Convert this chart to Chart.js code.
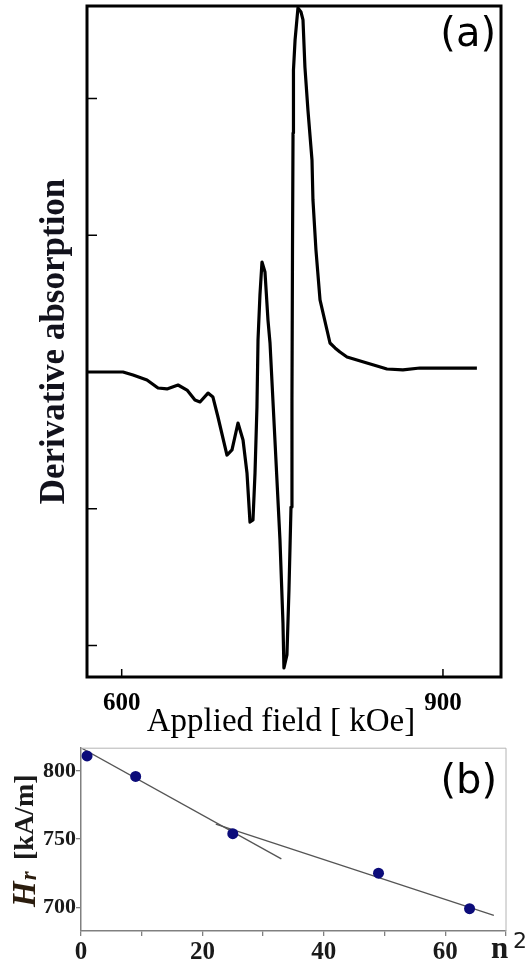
<!DOCTYPE html>
<html>
<head>
<meta charset="utf-8">
<script src="https://cdn.jsdelivr.net/npm/chart.js@4.4.1/dist/chart.umd.min.js"></script>
<style>
  body { margin: 0; background: #fff; }
  canvas { position: absolute; left: 0; }
  #chartA { top: 0; }
  #chartB { top: 735px; }
</style>
</head>
<body>
<canvas id="chartA" width="528" height="745"></canvas>
<canvas id="chartB" width="528" height="235"></canvas>
<script>
// panel (a): derivative absorption vs applied field
const fieldKOe = [568.5, 601.2, 610.6, 623.6, 633.9, 642.3, 652.6, 661.0, 668.4, 673.1,
  680.6, 685.2, 689.9, 698.3, 703.0, 708.6, 713.3, 717.0, 719.8, 722.6,
  724.5, 726.3, 727.3, 729.1, 731.0, 733.8, 736.6, 738.5, 743.1, 747.8,
  750.6, 751.5, 754.3, 756.2, 758.1, 759.0, 759.5, 760.0, 760.4, 761.9,
  764.6, 767.4, 769.3, 771.1, 773.9, 777.7, 778.6, 781.4, 785.2, 791.7,
  794.5, 799.2, 803.8, 810.4, 819.7, 829.0, 838.4, 847.7, 862.6, 878.5, 931.7];
const derivAbs = [0.00, 0.00, -0.022, -0.058, -0.117, -0.124, -0.095, -0.132, -0.205, -0.219,
  -0.154, -0.183, -0.329, -0.607, -0.570, -0.373, -0.497, -0.738, -1.097, -1.082,
  -0.738, -0.256, 0.234, 0.563, 0.804, 0.731, 0.380, 0.212, -0.497, -1.229,
  -1.835, -2.164, -2.069, -1.594, -0.987, -0.205, 0.892, 1.748, 2.208, 2.428,
  2.662, 2.633, 2.574, 2.230, 1.916, 1.550, 1.258, 0.892, 0.527, 0.307,
  0.212, 0.176, 0.146, 0.110, 0.088, 0.066, 0.044, 0.022, 0.015, 0.029, 0.029];
const fieldTicks = [600, 900];
const absTicks = [-2, -1, 0, 1, 2];

// panel (b): resonance field vs n^2
const nSquared = [1, 9, 25, 49, 64];
const resField = [811, 796, 754, 725, 699];
const fitLowX = [0, 33];
const fitLowY = [817, 735.5];
const fitHighX = [22.2, 68];
const fitHighY = [761, 694];
const n2Labels = [0, 20, 40, 60];

const serif = "'Liberation Serif', 'Times New Roman', serif";
const sans = "'DejaVu Sans', sans-serif";
const pts = (xs, ys) => xs.map((x, i) => ({ x, y: ys[i] }));

// box + inward ticks + texts for (a)
const frameA = {
  id: 'frameA',
  afterDraw(chart) {
    const { ctx, chartArea: a, scales: { x, y } } = chart;
    ctx.save();
    ctx.strokeStyle = '#000';
    ctx.lineWidth = 3;
    ctx.strokeRect(a.left, a.top, a.right - a.left, a.bottom - a.top);
    ctx.lineWidth = 1.5;
    ctx.beginPath();
    absTicks.forEach(v => {
      const py = y.getPixelForValue(v);
      ctx.moveTo(a.left, py); ctx.lineTo(a.left + 10, py);
    });
    fieldTicks.forEach(v => {
      const px = x.getPixelForValue(v);
      ctx.moveTo(px, a.bottom); ctx.lineTo(px, a.bottom - 8);
    });
    ctx.stroke();
    ctx.fillStyle = '#000';
    ctx.textAlign = 'center';
    ctx.textBaseline = 'middle';
    ctx.font = `33px ${serif}`;
    ctx.fillText('Applied field [ kOe]', 281, 722);
    ctx.textAlign = 'right';
    ctx.font = `40px ${sans}`;
    ctx.fillText('(a)', 496, 36);
    ctx.restore();
  }
};

new Chart(document.getElementById('chartA'), {
  type: 'scatter',
  data: {
    datasets: [{
      data: pts(fieldKOe, derivAbs),
      showLine: true,
      borderColor: '#000',
      borderWidth: 3.2,
      borderJoinStyle: 'round',
      pointRadius: 0,
      tension: 0
    }]
  },
  options: {
    responsive: false,
    animation: false,
    layout: { padding: { top: 6, right: 27, left: 0, bottom: 0 } },
    plugins: { legend: { display: false }, tooltip: { enabled: false } },
    scales: {
      x: {
        type: 'linear',
        min: 567.6,
        max: 954.2,
        afterBuildTicks: s => { s.ticks = fieldTicks.map(v => ({ value: v })); },
        afterFit: s => { s.height = 68; },
        ticks: { font: { family: serif, size: 25, weight: 'bold' }, color: '#000', padding: 4, maxRotation: 0 },
        grid: { display: false },
        border: { display: false }
      },
      y: {
        min: -2.23,
        max: 2.676,
        afterFit: s => { s.width = 87; },
        ticks: { display: false },
        grid: { display: false },
        border: { display: false },
        title: {
          display: true,
          text: 'Derivative absorption',
          color: '#12121c',
          font: { family: serif, size: 35, weight: 'bold' },
          padding: { top: 34, bottom: 0 }
        }
      }
    }
  },
  plugins: [frameA]
});

// light frame + custom labels for (b)
const frameB = {
  id: 'frameB',
  afterDraw(chart) {
    const { ctx, chartArea: a } = chart;
    ctx.save();
    ctx.strokeStyle = '#b4b4b4';
    ctx.lineWidth = 1;
    ctx.beginPath();
    ctx.moveTo(a.left, a.top); ctx.lineTo(a.right, a.top); ctx.lineTo(a.right, a.bottom);
    ctx.stroke();

    ctx.fillStyle = '#000';
    ctx.textAlign = 'right';
    ctx.textBaseline = 'middle';
    ctx.font = `40px ${sans}`;
    ctx.fillText('(b)', 497, 48);

    ctx.textAlign = 'left';
    ctx.textBaseline = 'alphabetic';
    ctx.font = `bold 31px ${serif}`;
    ctx.fillStyle = '#1a1a1a';
    ctx.fillText('n', 491, 223);
    ctx.font = `22px ${sans}`;
    ctx.fillText('2', 513, 213);

    ctx.translate(35, 172);
    ctx.rotate(-Math.PI / 2);
    ctx.fillStyle = '#2b1d0e';
    ctx.font = `italic bold 33px ${serif}`;
    ctx.fillText('H', 0, 0);
    const w = ctx.measureText('H').width;
    ctx.font = `italic bold 23px ${serif}`;
    ctx.fillText('r', w + 1, 1);
    ctx.fillStyle = '#1a1a1a';
    ctx.font = `bold 28px ${serif}`;
    ctx.fillText('[kA/m]', 47, -2);
    ctx.restore();
  }
};

const axisGrey = '#808080';
new Chart(document.getElementById('chartB'), {
  type: 'scatter',
  data: {
    datasets: [
      { data: pts(nSquared, resField), backgroundColor: '#0c0c7a', borderWidth: 0, pointRadius: 5.5, order: 0 },
      { data: pts(fitLowX, fitLowY), showLine: true, borderColor: '#555', borderWidth: 1.3, pointRadius: 0, order: 1 },
      { data: pts(fitHighX, fitHighY), showLine: true, borderColor: '#555', borderWidth: 1.3, pointRadius: 0, order: 1 }
    ]
  },
  options: {
    responsive: false,
    animation: false,
    layout: { padding: { top: 12, right: 22, left: 0, bottom: 0 } },
    plugins: { legend: { display: false }, tooltip: { enabled: false } },
    scales: {
      x: {
        type: 'linear',
        min: 0,
        max: 70,
        afterFit: s => { s.height = 39; },
        ticks: {
          stepSize: 10,
          autoSkip: false,
          maxRotation: 0,
          padding: 2,
          color: '#1a1a1a',
          font: { family: serif, size: 25, weight: 'bold' },
          callback: v => n2Labels.includes(v) ? String(v) : ''
        },
        grid: { drawOnChartArea: false, drawTicks: true, tickLength: 5, color: axisGrey, lineWidth: 1.3 },
        border: { color: axisGrey, width: 1.5 }
      },
      y: {
        min: 682.6,
        max: 816.7,
        afterFit: s => { s.width = 81; },
        ticks: {
          stepSize: 50,
          includeBounds: false,
          padding: 0,
          color: '#1a1a1a',
          font: { family: serif, size: 22, weight: 'bold' }
        },
        grid: { drawOnChartArea: false, drawTicks: true, tickLength: 5, color: axisGrey, lineWidth: 1.3 },
        border: { color: axisGrey, width: 1.5 }
      }
    }
  },
  plugins: [frameB]
});
</script>
</body>
</html>
